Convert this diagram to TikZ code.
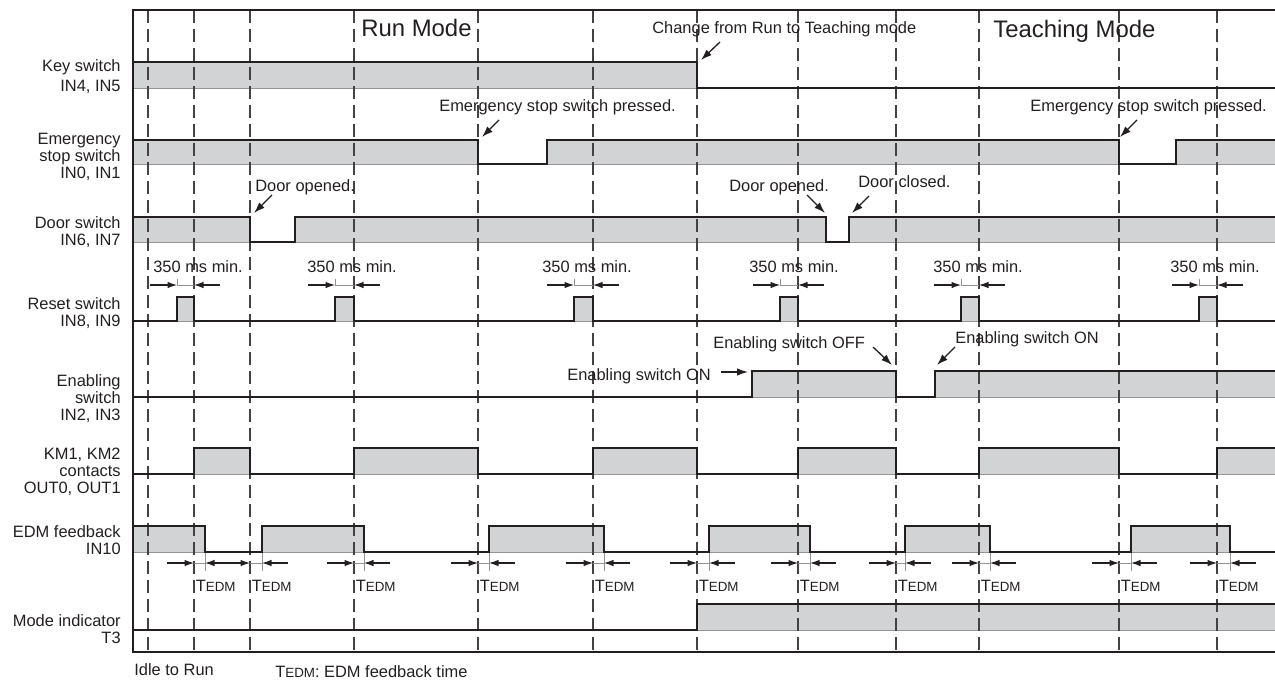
\documentclass[tikz,border=0pt]{standalone}
\usepackage{fontspec}
\setmainfont{Liberation Sans}
\usetikzlibrary{arrows.meta}
\definecolor{chartink}{HTML}{231F20}
\definecolor{chartfill}{HTML}{D1D3D4}
\definecolor{chartedge}{HTML}{939598}
\newcommand{\tedm}{T{\fontsize{7.6}{8}\selectfont EDM}}
\newcommand{\gridline}[1]{\draw[gridline] (#1,10) -- (#1,652);}
\newcommand{\band}[4]{\filldraw[band] (#1,#3) rectangle (#2,#4);}
\newcommand{\siglabel}[3]{\node[siglbl] (#1) at (121,#2) {#3};}
\newcommand{\callout}[5]{%
  \coordinate (#1s) at (#2,#3);
  \coordinate (#1t) at (#4,#5);
  \draw[note] (#1s) -- (#1t);
}
\newcommand{\minwidth}[4]{%
  \coordinate (#1l) at (#2,285);
  \coordinate (#1r) at (#3,285);
  \coordinate (#1a) at ({#2-27},285);
  \coordinate (#1b) at ({#3+26},285);
  \draw[dimthin] (#2,279) -- (#1l) -- (#1r);
  \draw[dim] (#1a) -- (#1l);
  \draw[dim] (#1b) -- (#1r);
  \node[lbl, anchor=base west] (#1) at (#4,272) {350 ms min.};
}
\newcommand{\edmdelay}[3]{%
  \coordinate (#1l) at (#2,563);
  \coordinate (#1r) at (#3,563);
  \coordinate (#1a) at ({#2-27},563);
  \coordinate (#1b) at ({#3+26},563);
  \draw[dimthin] (#3,553) -- (#3,571);
  \draw[dimthin] (#1l) -- (#1r);
  \draw[dim] (#1a) -- (#1l);
  \draw[dim] (#1b) -- (#1r);
  \node[lbl, anchor=base west] (#1) at ({#2+1.5},591) {\tedm};
}

\begin{document}
\begin{tikzpicture}[x=0.02cm, y=-0.02cm,
  lbl/.style={text=chartink, inner sep=0pt, font=\fontsize{9.35}{9.7}\selectfont},
  siglbl/.style={lbl, anchor=east, align=right},
  title/.style={lbl, font=\fontsize{13.6}{15}\selectfont},
  band/.style={fill=chartfill, draw=chartedge, line width=0.4pt},
  sig/.style={chartink, line width=1pt, line join=miter},
  frame/.style={chartink, line width=1pt},
  gridline/.style={chartink!85, line width=0.6pt, dash pattern=on 0.26cm off 0.12cm},
  dim/.style={chartink, line width=0.6pt, -{Latex[length=0.19cm, width=0.13cm]}},
  dimthin/.style={chartedge, line width=0.4pt},
  note/.style={chartink, line width=0.75pt, -{Latex[length=0.22cm, width=0.15cm]}}]

  \useasboundingbox (0,0) rectangle (1275,680);

  \band{133}{697}{62}{88}
  \band{133}{478}{140}{164}
  \band{547}{1119}{140}{164}
  \band{1176}{1275}{140}{164}
  \band{133}{250}{217}{242}
  \band{295}{826}{217}{242}
  \band{849}{1275}{217}{242}
  \band{177}{194}{297}{321}
  \band{335}{354}{297}{321}
  \band{574}{593}{297}{321}
  \band{780}{798}{297}{321}
  \band{961}{979}{297}{321}
  \band{1199}{1217}{297}{321}
  \band{752}{896}{371}{397}
  \band{935}{1275}{371}{397}
  \band{194}{250}{448}{474}
  \band{354}{478}{448}{474}
  \band{593}{697}{448}{474}
  \band{798}{896}{448}{474}
  \band{979}{1119}{448}{474}
  \band{1217}{1275}{448}{474}
  \band{133}{205}{526}{552}
  \band{262}{364}{526}{552}
  \band{489}{604}{526}{552}
  \band{709}{810}{526}{552}
  \band{905}{990}{526}{552}
  \band{1131}{1230}{526}{552}
  \band{697}{1275}{604}{630}

  \gridline{148}
  \gridline{194}
  \gridline{250}
  \gridline{354}
  \gridline{478}
  \gridline{593}
  \gridline{697}
  \gridline{798}
  \gridline{896}
  \gridline{979}
  \gridline{1119}
  \gridline{1217}

  \draw[sig] (133,62) -- (697,62) -- (697,88) -- (1275,88);
  \draw[sig] (133,140) -- (478,140) -- (478,164) -- (547,164) -- (547,140) -- (1119,140)
    -- (1119,164) -- (1176,164) -- (1176,140) -- (1275,140);
  \draw[sig] (133,217) -- (250,217) -- (250,242) -- (295,242) -- (295,217) -- (826,217)
    -- (826,242) -- (849,242) -- (849,217) -- (1275,217);
  \draw[sig] (133,321) -- (177,321) -- (177,297) -- (194,297) -- (194,321) -- (335,321)
    -- (335,297) -- (354,297) -- (354,321) -- (574,321) -- (574,297) -- (593,297)
    -- (593,321) -- (780,321) -- (780,297) -- (798,297) -- (798,321) -- (961,321)
    -- (961,297) -- (979,297) -- (979,321) -- (1199,321) -- (1199,297) -- (1217,297)
    -- (1217,321) -- (1275,321);
  \draw[sig] (133,397) -- (752,397) -- (752,371) -- (896,371) -- (896,397) -- (935,397)
    -- (935,371) -- (1275,371);
  \draw[sig] (133,474) -- (194,474) -- (194,448) -- (250,448) -- (250,474) -- (354,474)
    -- (354,448) -- (478,448) -- (478,474) -- (593,474) -- (593,448) -- (697,448)
    -- (697,474) -- (798,474) -- (798,448) -- (896,448) -- (896,474) -- (979,474)
    -- (979,448) -- (1119,448) -- (1119,474) -- (1217,474) -- (1217,448) -- (1275,448);
  \draw[sig] (133,526) -- (205,526) -- (205,552) -- (262,552) -- (262,526) -- (364,526)
    -- (364,552) -- (489,552) -- (489,526) -- (604,526) -- (604,552) -- (709,552)
    -- (709,526) -- (810,526) -- (810,552) -- (905,552) -- (905,526) -- (990,526)
    -- (990,552) -- (1131,552) -- (1131,526) -- (1230,526) -- (1230,552) -- (1275,552);
  \draw[sig] (133,630) -- (697,630) -- (697,604) -- (1275,604);

  \draw[frame] (1275,10) -- (133,10) -- (133,652) -- (1275,652);

  \siglabel{key}{76.5}{Key switch\\[1.8pt]IN4, IN5}
  \siglabel{estop}{156.5}{Emergency\\stop switch\\IN0, IN1}
  \siglabel{door}{232}{Door switch\\IN6, IN7}
  \siglabel{reset}{313.5}{Reset switch\\IN8, IN9}
  \siglabel{enable}{398.5}{Enabling\\switch\\IN2, IN3}
  \siglabel{km}{472}{KM1, KM2\\contacts\\OUT0, OUT1}
  \siglabel{edm}{540}{EDM feedback\\IN10}
  \siglabel{mode}{629.5}{Mode indicator\\T3}

  \node[title, anchor=base west] (runmode) at (361,36) {Run Mode};
  \node[title, anchor=base west] (teachmode) at (993,37) {Teaching Mode};

  \node[lbl, anchor=base west] (change) at (652,33.5) {Change from Run to Teaching mode};
  \callout{change}{720}{42}{701}{60}
  \node[lbl, anchor=base west] (estopA) at (439,111) {Emergency stop switch pressed.};
  \callout{estopA}{499}{120}{482}{137}
  \node[lbl, anchor=base west] (estopB) at (1030,111) {Emergency stop switch pressed.};
  \callout{estopB}{1137}{120}{1120}{137}
  \node[lbl, anchor=base west] (doorA) at (255,191.5) {Door opened.};
  \callout{doorA}{272}{195}{254}{213}
  \node[lbl, anchor=base west] (doorB) at (729,191) {Door opened.};
  \callout{doorB}{807}{195}{825}{213}
  \node[lbl, anchor=base west] (doorC) at (858,187.5) {Door closed.};
  \callout{doorC}{869}{196}{852}{213}
  \node[lbl, anchor=base west] (enonA) at (567,380) {Enabling switch ON};
  \callout{enonA}{721}{372}{748}{372}
  \node[lbl, anchor=base west] (enoff) at (713,348.5) {Enabling switch OFF};
  \callout{enoff}{873}{347}{892}{365}
  \node[lbl, anchor=base west] (enonB) at (955,343.5) {Enabling switch ON};
  \callout{enonB}{955}{347}{937}{365}

  \minwidth{rsA}{177}{194}{153}
  \minwidth{rsB}{335}{354}{307}
  \minwidth{rsC}{574}{593}{542}
  \minwidth{rsD}{780}{798}{749}
  \minwidth{rsE}{961}{979}{933}
  \minwidth{rsF}{1199}{1217}{1170}

  \edmdelay{edA}{194}{205}
  \edmdelay{edB}{250}{262}
  \edmdelay{edC}{354}{364}
  \edmdelay{edD}{478}{489}
  \edmdelay{edE}{593}{604}
  \edmdelay{edF}{697}{709}
  \edmdelay{edG}{798}{810}
  \edmdelay{edH}{896}{905}
  \edmdelay{edI}{979}{990}
  \edmdelay{edJ}{1119}{1131}
  \edmdelay{edK}{1217}{1230}

  \node[lbl, anchor=base west] (idle) at (134,675) {Idle to Run};
  \node[lbl, anchor=base west] (tedmnote) at (275,677) {\tedm: EDM feedback time};

\end{tikzpicture}
\end{document}
